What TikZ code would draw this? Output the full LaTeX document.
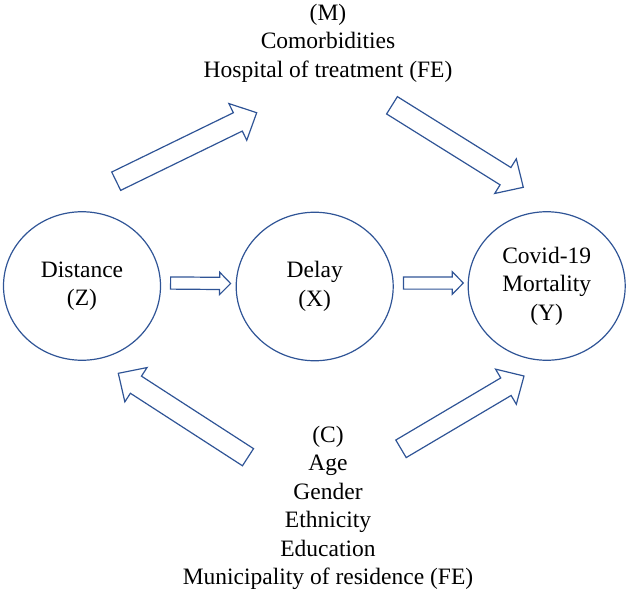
\documentclass[tikz,border=0pt]{standalone}
\usepackage{fontspec}
\setmainfont{Liberation Serif}
\usetikzlibrary{shapes.geometric,calc}

\definecolor{lineblue}{RGB}{47,84,150}

\tikzset{
  var/.style={ellipse, draw=lineblue, line width=1.2pt, minimum width=157pt,
    minimum height=148.5pt, inner sep=0pt, align=center},
  lst/.style={align=center, inner sep=0pt},
  blockarrow/.style n args={3}{to path={
      ($(\tikztostart)!#1!90:(\tikztotarget)$)
      -- ($(\tikztotarget)!#3!(\tikztostart)!#1!90:(\tikztotarget)$)
      -- ($(\tikztotarget)!#3!(\tikztostart)!#2!90:(\tikztotarget)$)
      -- (\tikztotarget)
      -- ($(\tikztotarget)!#3!(\tikztostart)!#2!-90:(\tikztotarget)$)
      -- ($(\tikztotarget)!#3!(\tikztostart)!#1!-90:(\tikztotarget)$)
      -- ($(\tikztostart)!#1!-90:(\tikztotarget)$) -- cycle}},
  bigarrow/.style={draw=lineblue, line width=1.2pt, blockarrow={10.2pt}{20.4pt}{21pt}},
  smallarrow/.style={draw=lineblue, line width=1.2pt, blockarrow={6.1pt}{11.2pt}{11pt}},
}

\begin{document}
\begin{tikzpicture}[x=1pt, y=-1pt]
  \fontsize{23.5}{28.5}\selectfont
  \useasboundingbox (0,0) rectangle (626,597);

  % zmienne
  \node[var] (Z) at (82,286) {Distance\\(Z)};
  \node[var] (X) at (314.7,286.5) {Delay\\(X)};
  \node[var] (Y) at (546.7,286) {Covid-19\\Mortality\\(Y)};

  % mediatory i kontrola
  \node[lst] (M) at (328,43) {(M)\\Comorbidities\\Hospital of treatment (FE)};
  \node[lst] (C) at (328,508) {(C)\\Age\\Gender\\Ethnicity\\Education\\Municipality of residence (FE)};

  % konce strzalek
  \coordinate (zx0) at ($(Z.east)+(9.5,-3)$);
  \coordinate (zx1) at ($(X.west)+(-5,-3)$);
  \coordinate (xy0) at ($(X.east)+(9.7,-3.5)$);
  \coordinate (xy1) at ($(Y.west)+(-4.3,-3)$);
  \coordinate (zm0) at (116.2,181.2);
  \coordinate (zm1) at (256.7,112.7);
  \coordinate (my0) at (392,105.3);
  \coordinate (my1) at (523.3,187.3);
  \coordinate (cz0) at (248,457.2);
  \coordinate (cz1) at (118.3,373.3);
  \coordinate (cy0) at (401,448.8);
  \coordinate (cy1) at (524,376);

  % strzalki
  \draw[smallarrow] (zx0) to (zx1);
  \draw[smallarrow] (xy0) to (xy1);
  \draw[bigarrow] (zm0) to (zm1);
  \draw[bigarrow] (my0) to (my1);
  \draw[bigarrow] (cz0) to (cz1);
  \draw[bigarrow] (cy0) to (cy1);

\end{tikzpicture}
\end{document}
